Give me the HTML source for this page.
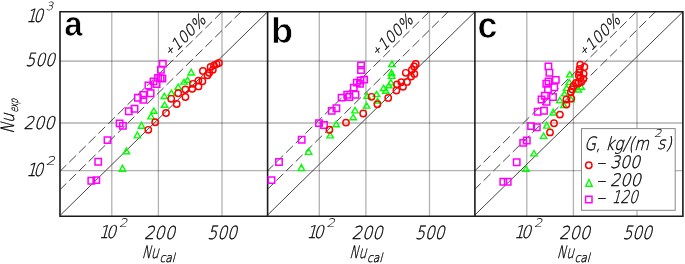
<!DOCTYPE html><html><head><meta charset="utf-8"><style>html,body{margin:0;padding:0;background:#fff;}svg{display:block}</style></head><body>
<svg width="685" height="264" viewBox="0 0 685 264">
<rect width="685" height="264" fill="#fff"/>
<path d="M111.8 11.8V216.2M158.4 11.8V216.2M222.0 11.8V216.2M319.3 11.8V216.2M365.9 11.8V216.2M429.5 11.8V216.2M526.8 11.8V216.2M573.4 11.8V216.2M637.0 11.8V216.2" stroke="#000" stroke-opacity="0.3" stroke-width="1.3" fill="none"/>
<path d="M60.0 123.0H267.6M60.0 170.7H267.6M267.6 123.0H474.9M267.6 170.7H474.9M474.9 123.0H682.9M474.9 170.7H682.9" stroke="#000" stroke-opacity="0.3" stroke-width="1.3" fill="none"/>
<path d="M60.0 61.1H267.6M267.6 61.1H474.9M474.9 61.1H682.9" stroke="#000" stroke-opacity="0.36" stroke-width="1.3" fill="none"/>
<path d="M60.5 215.0L267.6 11.8" stroke="#444" stroke-width="1.0" fill="none"/>
<path d="M60.5 170.8L222.0 11.8M60.5 189.2L241.0 11.8" stroke="#484848" stroke-width="1.0" fill="none" stroke-dasharray="9.6 4.04" stroke-dashoffset="1.4"/>
<path d="M267.6 215.0L474.9 11.8" stroke="#444" stroke-width="1.0" fill="none"/>
<path d="M267.6 170.8L429.1 11.8M267.6 189.2L448.1 11.8" stroke="#484848" stroke-width="1.0" fill="none" stroke-dasharray="9.6 4.04" stroke-dashoffset="1.4"/>
<path d="M474.9 215.0L682.9 11.8" stroke="#444" stroke-width="1.0" fill="none"/>
<path d="M474.9 170.8L636.4 11.8M474.9 189.2L655.4 11.8" stroke="#484848" stroke-width="1.0" fill="none" stroke-dasharray="9.6 4.04" stroke-dashoffset="1.4"/>
<path d="M60.0 11.8H682.9V216.2H60.0Z M267.6 11.8V216.2 M474.9 11.8V216.2" stroke="#1a1a1a" stroke-width="1.6" fill="none"/>
<path d="M88.1 177.6h6.4v6.4h-6.4zM93.1 176.9h6.4v6.4h-6.4zM95.0 158.5h6.4v6.4h-6.4zM104.3 136.9h6.4v6.4h-6.4zM116.4 120.2h6.4v6.4h-6.4zM119.7 122.7h6.4v6.4h-6.4zM125.6 108.1h6.4v6.4h-6.4zM131.3 105.6h6.4v6.4h-6.4zM134.7 94.6h6.4v6.4h-6.4zM140.1 91.8h6.4v6.4h-6.4zM140.1 96.6h6.4v6.4h-6.4zM145.2 82.3h6.4v6.4h-6.4zM147.4 90.0h6.4v6.4h-6.4zM150.3 78.2h6.4v6.4h-6.4zM153.4 80.9h6.4v6.4h-6.4zM154.8 74.7h6.4v6.4h-6.4zM157.4 75.1h6.4v6.4h-6.4zM159.2 75.3h6.4v6.4h-6.4zM157.7 66.6h6.4v6.4h-6.4zM159.6 60.6h6.4v6.4h-6.4z" stroke="#ff00ff" stroke-width="1.5" fill="none"/>
<path d="M122.5 165.3L125.7 171.2H119.3zM126.4 148.0L129.6 153.8H123.2zM137.4 132.0L140.6 137.9H134.2zM141.5 122.3L144.7 128.2H138.3zM151.0 113.4L154.2 118.9H147.8zM153.8 108.1L157.0 113.3H150.6zM164.6 102.0L167.8 107.3H161.4zM164.3 93.3L167.5 98.5H161.1zM171.4 90.2L174.6 95.4H168.2zM178.2 84.2L181.4 89.4H175.0zM184.1 79.3L187.3 84.1H180.9zM187.7 77.4L190.9 82.3H184.5zM191.2 69.3L194.4 75.0H188.0z" stroke="#00ff00" stroke-width="1.4" fill="none" stroke-linejoin="miter"/>
<circle cx="148.3" cy="129.8" r="3.2" stroke="#ff0000" stroke-width="1.45" fill="none"/>
<circle cx="155.2" cy="122.2" r="3.2" stroke="#ff0000" stroke-width="1.45" fill="none"/>
<circle cx="166" cy="113" r="3.2" stroke="#ff0000" stroke-width="1.45" fill="none"/>
<circle cx="171.2" cy="98.8" r="3.2" stroke="#ff0000" stroke-width="1.45" fill="none"/>
<circle cx="176.7" cy="104" r="3.2" stroke="#ff0000" stroke-width="1.45" fill="none"/>
<circle cx="178.2" cy="93.2" r="3.2" stroke="#ff0000" stroke-width="1.45" fill="none"/>
<circle cx="185.4" cy="97" r="3.2" stroke="#ff0000" stroke-width="1.45" fill="none"/>
<circle cx="185.4" cy="89.5" r="3.2" stroke="#ff0000" stroke-width="1.45" fill="none"/>
<circle cx="192.2" cy="88.7" r="3.2" stroke="#ff0000" stroke-width="1.45" fill="none"/>
<circle cx="193" cy="83.8" r="3.2" stroke="#ff0000" stroke-width="1.45" fill="none"/>
<circle cx="198.5" cy="86.4" r="3.2" stroke="#ff0000" stroke-width="1.45" fill="none"/>
<circle cx="198.4" cy="80.6" r="3.2" stroke="#ff0000" stroke-width="1.45" fill="none"/>
<circle cx="202.4" cy="81.2" r="3.2" stroke="#ff0000" stroke-width="1.45" fill="none"/>
<circle cx="202.9" cy="70.9" r="3.2" stroke="#ff0000" stroke-width="1.45" fill="none"/>
<circle cx="207.5" cy="75.2" r="3.2" stroke="#ff0000" stroke-width="1.45" fill="none"/>
<circle cx="209.2" cy="72.7" r="3.2" stroke="#ff0000" stroke-width="1.45" fill="none"/>
<circle cx="210.6" cy="67" r="3.2" stroke="#ff0000" stroke-width="1.45" fill="none"/>
<circle cx="212.8" cy="69.8" r="3.2" stroke="#ff0000" stroke-width="1.45" fill="none"/>
<circle cx="214" cy="65.3" r="3.2" stroke="#ff0000" stroke-width="1.45" fill="none"/>
<circle cx="216.6" cy="64.1" r="3.2" stroke="#ff0000" stroke-width="1.45" fill="none"/>
<circle cx="218.9" cy="63" r="3.2" stroke="#ff0000" stroke-width="1.45" fill="none"/>
<path d="M268.3 176.9h6.4v6.4h-6.4zM275.8 158.8h6.4v6.4h-6.4zM298.5 136.6h6.4v6.4h-6.4zM315.8 119.9h6.4v6.4h-6.4zM320.8 121.8h6.4v6.4h-6.4zM328.5 107.7h6.4v6.4h-6.4zM333.2 105.0h6.4v6.4h-6.4zM338.4 94.4h6.4v6.4h-6.4zM344.0 91.6h6.4v6.4h-6.4zM346.2 93.8h6.4v6.4h-6.4zM352.3 91.6h6.4v6.4h-6.4zM350.6 84.4h6.4v6.4h-6.4zM353.6 79.4h6.4v6.4h-6.4zM356.8 80.7h6.4v6.4h-6.4zM357.3 77.3h6.4v6.4h-6.4zM361.0 76.4h6.4v6.4h-6.4zM357.8 66.8h6.4v6.4h-6.4zM357.8 62.2h6.4v6.4h-6.4z" stroke="#ff00ff" stroke-width="1.5" fill="none"/>
<path d="M301.4 164.6L304.6 170.6H298.2zM308.6 148.6L311.8 154.4H305.4zM330.2 132.2L333.4 137.9H327.0zM336.2 121.3L339.4 126.8H333.0zM353.2 114.5L356.4 119.7H350.0zM355.0 107.4L358.2 112.9H351.8zM366.6 102.9L369.8 108.1H363.4zM367.2 93.2L370.4 98.4H364.0zM376.5 91.5L379.7 96.4H373.3zM377.6 98.3L380.8 103.0H374.4zM383.6 85.3L386.8 90.5H380.4zM385.9 88.1L389.1 93.3H382.7zM388.8 83.0L392.0 87.7H385.6zM390.8 79.7L394.0 84.9H387.6zM391.7 73.4L394.9 78.4H388.5zM391.5 69.9L394.7 75.6H388.3zM392.0 61.0L395.2 66.6H388.8z" stroke="#00ff00" stroke-width="1.4" fill="none" stroke-linejoin="miter"/>
<circle cx="329.4" cy="129.7" r="3.2" stroke="#ff0000" stroke-width="1.45" fill="none"/>
<circle cx="346" cy="122.6" r="3.2" stroke="#ff0000" stroke-width="1.45" fill="none"/>
<circle cx="363.2" cy="113.5" r="3.2" stroke="#ff0000" stroke-width="1.45" fill="none"/>
<circle cx="371.5" cy="96.8" r="3.2" stroke="#ff0000" stroke-width="1.45" fill="none"/>
<circle cx="377.4" cy="104.2" r="3.2" stroke="#ff0000" stroke-width="1.45" fill="none"/>
<circle cx="388.2" cy="97.9" r="3.2" stroke="#ff0000" stroke-width="1.45" fill="none"/>
<circle cx="396.4" cy="90.5" r="3.2" stroke="#ff0000" stroke-width="1.45" fill="none"/>
<circle cx="397" cy="84.5" r="3.2" stroke="#ff0000" stroke-width="1.45" fill="none"/>
<circle cx="401.3" cy="82.2" r="3.2" stroke="#ff0000" stroke-width="1.45" fill="none"/>
<circle cx="403" cy="86.8" r="3.2" stroke="#ff0000" stroke-width="1.45" fill="none"/>
<circle cx="407" cy="81.9" r="3.2" stroke="#ff0000" stroke-width="1.45" fill="none"/>
<circle cx="405.8" cy="72.8" r="3.2" stroke="#ff0000" stroke-width="1.45" fill="none"/>
<circle cx="411.1" cy="76.6" r="3.2" stroke="#ff0000" stroke-width="1.45" fill="none"/>
<circle cx="411.9" cy="69.8" r="3.2" stroke="#ff0000" stroke-width="1.45" fill="none"/>
<circle cx="414.4" cy="73.9" r="3.2" stroke="#ff0000" stroke-width="1.45" fill="none"/>
<circle cx="414.1" cy="66.4" r="3.2" stroke="#ff0000" stroke-width="1.45" fill="none"/>
<circle cx="415.7" cy="63.9" r="3.2" stroke="#ff0000" stroke-width="1.45" fill="none"/>
<path d="M500.1 178.5h6.4v6.4h-6.4zM504.5 178.5h6.4v6.4h-6.4zM513.5 159.1h6.4v6.4h-6.4zM520.0 139.7h6.4v6.4h-6.4zM523.6 137.3h6.4v6.4h-6.4zM527.9 122.9h6.4v6.4h-6.4zM533.6 124.0h6.4v6.4h-6.4zM534.5 108.6h6.4v6.4h-6.4zM540.8 107.6h6.4v6.4h-6.4zM538.3 96.3h6.4v6.4h-6.4zM543.4 98.6h6.4v6.4h-6.4zM541.6 92.6h6.4v6.4h-6.4zM549.8 93.8h6.4v6.4h-6.4zM544.8 86.2h6.4v6.4h-6.4zM551.1 84.1h6.4v6.4h-6.4zM543.1 80.6h6.4v6.4h-6.4zM545.3 78.2h6.4v6.4h-6.4zM552.6 76.7h6.4v6.4h-6.4zM546.2 69.6h6.4v6.4h-6.4zM545.2 63.2h6.4v6.4h-6.4z" stroke="#ff00ff" stroke-width="1.5" fill="none"/>
<path d="M526.0 166.2L529.2 171.2H522.8zM534.0 150.5L537.2 155.9H530.8zM543.6 133.0L546.8 138.4H540.4zM546.8 122.3L550.0 128.1H543.6zM553.2 109.2L556.4 115.0H550.0zM559.8 97.4L563.0 102.6H556.6zM563.9 102.3L567.1 107.6H560.7zM564.5 91.3L567.7 95.9H561.3zM566.6 85.4L569.8 90.4H563.4zM569.3 79.6L572.5 84.4H566.1zM569.8 71.7L573.0 76.9H566.6zM570.9 96.6L574.1 101.8H567.7zM578.3 87.0L581.5 92.0H575.1zM581.2 84.4L584.4 89.2H578.0z" stroke="#00ff00" stroke-width="1.4" fill="none" stroke-linejoin="miter"/>
<circle cx="550" cy="132.4" r="3.2" stroke="#ff0000" stroke-width="1.45" fill="none"/>
<circle cx="554" cy="123.2" r="3.2" stroke="#ff0000" stroke-width="1.45" fill="none"/>
<circle cx="559.9" cy="114.6" r="3.2" stroke="#ff0000" stroke-width="1.45" fill="none"/>
<circle cx="566.4" cy="104.6" r="3.2" stroke="#ff0000" stroke-width="1.45" fill="none"/>
<circle cx="566.4" cy="99.5" r="3.2" stroke="#ff0000" stroke-width="1.45" fill="none"/>
<circle cx="571.2" cy="98.5" r="3.2" stroke="#ff0000" stroke-width="1.45" fill="none"/>
<circle cx="570.8" cy="92.1" r="3.2" stroke="#ff0000" stroke-width="1.45" fill="none"/>
<circle cx="571.9" cy="89.2" r="3.2" stroke="#ff0000" stroke-width="1.45" fill="none"/>
<circle cx="573.5" cy="86" r="3.2" stroke="#ff0000" stroke-width="1.45" fill="none"/>
<circle cx="575.9" cy="82.9" r="3.2" stroke="#ff0000" stroke-width="1.45" fill="none"/>
<circle cx="578" cy="83.5" r="3.2" stroke="#ff0000" stroke-width="1.45" fill="none"/>
<circle cx="581.2" cy="82" r="3.2" stroke="#ff0000" stroke-width="1.45" fill="none"/>
<circle cx="578.8" cy="75.4" r="3.2" stroke="#ff0000" stroke-width="1.45" fill="none"/>
<circle cx="580.5" cy="77.5" r="3.2" stroke="#ff0000" stroke-width="1.45" fill="none"/>
<circle cx="583.3" cy="78.9" r="3.2" stroke="#ff0000" stroke-width="1.45" fill="none"/>
<circle cx="579.3" cy="72.5" r="3.2" stroke="#ff0000" stroke-width="1.45" fill="none"/>
<circle cx="583.6" cy="73.8" r="3.2" stroke="#ff0000" stroke-width="1.45" fill="none"/>
<circle cx="579.6" cy="68.9" r="3.2" stroke="#ff0000" stroke-width="1.45" fill="none"/>
<circle cx="584.4" cy="66.9" r="3.2" stroke="#ff0000" stroke-width="1.45" fill="none"/>
<circle cx="580.2" cy="64.7" r="3.2" stroke="#ff0000" stroke-width="1.45" fill="none"/>
<text x="0" y="0" font-size="35" font-family="Liberation Sans, Arial, sans-serif" font-weight="bold" stroke="#fff" stroke-width="0.7" transform="translate(64.15,36.42) scale(0.941,1.016)">a</text>
<text x="0" y="0" font-size="35" font-family="Liberation Sans, Arial, sans-serif" font-weight="bold" stroke="#fff" stroke-width="0.7" transform="translate(271.10,43.20) scale(1.036,1.020)">b</text>
<text x="0" y="0" font-size="35" font-family="Liberation Sans, Arial, sans-serif" font-weight="bold" stroke="#fff" stroke-width="0.7" transform="translate(477.57,37.62) scale(1.025,1.070)">c</text>
<text x="0" y="0" font-size="19" font-family="DejaVu Sans, Liberation Sans, sans-serif" font-weight="200" stroke="#000" stroke-width="0.35" transform="translate(26.35,21.77) skewX(-15) scale(0.807,0.963)">1<tspan dx="-3.5">0</tspan></text>
<text x="0" y="0" font-size="12" font-family="DejaVu Sans, Liberation Sans, sans-serif" font-weight="200" stroke="#000" stroke-width="0.12" transform="translate(45.75,9.82) skewX(-15) scale(0.980,0.941)">3</text>
<text x="0" y="0" font-size="19" font-family="DejaVu Sans, Liberation Sans, sans-serif" font-weight="200" stroke="#000" stroke-width="0.35" transform="translate(25.27,66.10) skewX(-15) scale(0.817,0.949)">500</text>
<text x="0" y="0" font-size="19" font-family="DejaVu Sans, Liberation Sans, sans-serif" font-weight="200" stroke="#000" stroke-width="0.35" transform="translate(23.60,129.18) skewX(-15) scale(0.857,0.926)">200</text>
<text x="0" y="0" font-size="19" font-family="DejaVu Sans, Liberation Sans, sans-serif" font-weight="200" stroke="#000" stroke-width="0.35" transform="translate(26.23,175.62) skewX(-15) scale(0.820,0.939)">1<tspan dx="-3.5">0</tspan></text>
<text x="0" y="0" font-size="12" font-family="DejaVu Sans, Liberation Sans, sans-serif" font-weight="200" stroke="#000" stroke-width="0.12" transform="translate(45.80,164.70) skewX(-15) scale(1.238,1.000)">2</text>
<text x="0" y="0" font-size="19" font-family="DejaVu Sans, Liberation Sans, sans-serif" font-weight="200" stroke="#000" stroke-width="0.35" transform="translate(98.85,238.38) skewX(-15) scale(0.828,0.929)">1<tspan dx="-3.5">0</tspan></text>
<text x="0" y="0" font-size="12" font-family="DejaVu Sans, Liberation Sans, sans-serif" font-weight="200" stroke="#000" stroke-width="0.12" transform="translate(118.88,227.02) skewX(-15) scale(1.091,0.984)">2</text>
<text x="0" y="0" font-size="19" font-family="DejaVu Sans, Liberation Sans, sans-serif" font-weight="200" stroke="#000" stroke-width="0.35" transform="translate(144.00,238.52) skewX(-15) scale(0.857,0.939)">200</text>
<text x="0" y="0" font-size="19" font-family="DejaVu Sans, Liberation Sans, sans-serif" font-weight="200" stroke="#000" stroke-width="0.35" transform="translate(207.28,238.68) skewX(-15) scale(0.817,0.959)">500</text>
<text x="0" y="0" font-size="19" font-family="DejaVu Sans, Liberation Sans, sans-serif" font-weight="200" stroke="#000" stroke-width="0.35" transform="translate(141.72,257.98) skewX(-15) scale(0.643,0.911)">Nu</text>
<text x="0" y="0" font-size="13" font-family="DejaVu Sans, Liberation Sans, sans-serif" font-weight="200" stroke="#000" stroke-width="0.35" transform="translate(159.53,262.48) skewX(-15) scale(0.806,0.956)">cal</text>
<text x="0" y="0" font-size="19" font-family="DejaVu Sans, Liberation Sans, sans-serif" font-weight="200" stroke="#000" stroke-width="0.35" transform="translate(306.45,238.38) skewX(-15) scale(0.828,0.929)">1<tspan dx="-3.5">0</tspan></text>
<text x="0" y="0" font-size="12" font-family="DejaVu Sans, Liberation Sans, sans-serif" font-weight="200" stroke="#000" stroke-width="0.12" transform="translate(326.48,227.02) skewX(-15) scale(1.091,0.984)">2</text>
<text x="0" y="0" font-size="19" font-family="DejaVu Sans, Liberation Sans, sans-serif" font-weight="200" stroke="#000" stroke-width="0.35" transform="translate(351.60,238.52) skewX(-15) scale(0.857,0.939)">200</text>
<text x="0" y="0" font-size="19" font-family="DejaVu Sans, Liberation Sans, sans-serif" font-weight="200" stroke="#000" stroke-width="0.35" transform="translate(414.88,238.68) skewX(-15) scale(0.817,0.959)">500</text>
<text x="0" y="0" font-size="19" font-family="DejaVu Sans, Liberation Sans, sans-serif" font-weight="200" stroke="#000" stroke-width="0.35" transform="translate(349.32,257.98) skewX(-15) scale(0.643,0.911)">Nu</text>
<text x="0" y="0" font-size="13" font-family="DejaVu Sans, Liberation Sans, sans-serif" font-weight="200" stroke="#000" stroke-width="0.35" transform="translate(367.12,262.48) skewX(-15) scale(0.806,0.956)">cal</text>
<text x="0" y="0" font-size="19" font-family="DejaVu Sans, Liberation Sans, sans-serif" font-weight="200" stroke="#000" stroke-width="0.35" transform="translate(513.95,238.38) skewX(-15) scale(0.828,0.929)">1<tspan dx="-3.5">0</tspan></text>
<text x="0" y="0" font-size="12" font-family="DejaVu Sans, Liberation Sans, sans-serif" font-weight="200" stroke="#000" stroke-width="0.12" transform="translate(533.98,227.02) skewX(-15) scale(1.091,0.984)">2</text>
<text x="0" y="0" font-size="19" font-family="DejaVu Sans, Liberation Sans, sans-serif" font-weight="200" stroke="#000" stroke-width="0.35" transform="translate(559.10,238.52) skewX(-15) scale(0.857,0.939)">200</text>
<text x="0" y="0" font-size="19" font-family="DejaVu Sans, Liberation Sans, sans-serif" font-weight="200" stroke="#000" stroke-width="0.35" transform="translate(622.38,238.68) skewX(-15) scale(0.817,0.959)">500</text>
<text x="0" y="0" font-size="19" font-family="DejaVu Sans, Liberation Sans, sans-serif" font-weight="200" stroke="#000" stroke-width="0.35" transform="translate(556.83,257.98) skewX(-15) scale(0.643,0.911)">Nu</text>
<text x="0" y="0" font-size="13" font-family="DejaVu Sans, Liberation Sans, sans-serif" font-weight="200" stroke="#000" stroke-width="0.35" transform="translate(574.62,262.48) skewX(-15) scale(0.806,0.956)">cal</text>
<g transform="translate(14,133) rotate(-90)"><text x="0" y="0" font-size="19" font-family="DejaVu Sans, Liberation Sans, sans-serif" font-weight="200" stroke="#000" stroke-width="0.35" transform="translate(-0.85,0.45) skewX(-15) scale(0.760,0.969)">Nu</text><text x="0" y="0" font-size="13" font-family="DejaVu Sans, Liberation Sans, sans-serif" font-weight="200" stroke="#000" stroke-width="0.35" transform="translate(20.50,4.10) skewX(-15) scale(0.562,0.878)">exp</text></g>
<g transform="translate(172.1,56.4) rotate(-45)"><text x="0" y="0" font-size="17" font-family="DejaVu Sans, Liberation Sans, sans-serif" font-weight="200" stroke="#000" stroke-width="0.35" transform="translate(-2.25,-0.28) skewX(-15) scale(0.879,0.902)"><tspan font-size="11" dy="-2.5">+</tspan><tspan dy="2.5" dx="1">100%</tspan></text></g>
<g transform="translate(379.2,56.4) rotate(-45)"><text x="0" y="0" font-size="17" font-family="DejaVu Sans, Liberation Sans, sans-serif" font-weight="200" stroke="#000" stroke-width="0.35" transform="translate(-2.25,-0.28) skewX(-15) scale(0.879,0.902)"><tspan font-size="11" dy="-2.5">+</tspan><tspan dy="2.5" dx="1">100%</tspan></text></g>
<g transform="translate(586.5,56.4) rotate(-45)"><text x="0" y="0" font-size="17" font-family="DejaVu Sans, Liberation Sans, sans-serif" font-weight="200" stroke="#000" stroke-width="0.35" transform="translate(-2.25,-0.28) skewX(-15) scale(0.879,0.902)"><tspan font-size="11" dy="-2.5">+</tspan><tspan dy="2.5" dx="1">100%</tspan></text></g>
<rect x="581.5" y="128.6" width="93.7" height="81.7" fill="#fff" stroke="#888" stroke-width="1"/>
<text x="0" y="0" font-size="19" font-family="DejaVu Sans, Liberation Sans, sans-serif" font-weight="200" stroke="#000" stroke-width="0.35" transform="translate(584.08,149.50) skewX(-15) scale(0.793,0.960)">G, kg/(m</text>
<text x="0" y="0" font-size="12" font-family="DejaVu Sans, Liberation Sans, sans-serif" font-weight="200" stroke="#000" stroke-width="0.12" transform="translate(654.10,137.40) skewX(-15) scale(0.980,0.889)">2</text>
<text x="0" y="0" font-size="19" font-family="DejaVu Sans, Liberation Sans, sans-serif" font-weight="200" stroke="#000" stroke-width="0.35" transform="translate(657.02,148.72) skewX(-15) scale(0.849,0.896)">s)</text>
<text x="0" y="0" font-size="19" font-family="DejaVu Sans, Liberation Sans, sans-serif" font-weight="200" stroke="#000" stroke-width="0.35" transform="translate(610.02,168.32) skewX(-15) scale(0.831,0.899)">300</text>
<text x="0" y="0" font-size="19" font-family="DejaVu Sans, Liberation Sans, sans-serif" font-weight="200" stroke="#000" stroke-width="0.35" transform="translate(609.98,185.75) skewX(-15) scale(0.852,0.905)">200</text>
<text x="0" y="0" font-size="19" font-family="DejaVu Sans, Liberation Sans, sans-serif" font-weight="200" stroke="#000" stroke-width="0.35" transform="translate(611.67,203.18) skewX(-15) scale(0.717,0.926)">120</text>
<circle cx="588.8" cy="165.2" r="3.2" stroke="#ff0000" stroke-width="1.45" fill="none"/>
<path d="M589 179.5L592.2 186.2H585.8z" stroke="#00ff00" stroke-width="1.4" fill="none"/>
<path d="M585.6 196.25h6.4v6.4h-6.4z" stroke="#ff00ff" stroke-width="1.5" fill="none"/>
<text x="0" y="0" font-size="19" font-family="DejaVu Sans, Liberation Sans, sans-serif" font-weight="200" stroke="#000" stroke-width="0.35" transform="translate(597.40,169.20) scale(0.936,1.000)">–</text>
<text x="0" y="0" font-size="19" font-family="DejaVu Sans, Liberation Sans, sans-serif" font-weight="200" stroke="#000" stroke-width="0.35" transform="translate(597.40,186.90) scale(0.936,1.000)">–</text>
<text x="0" y="0" font-size="19" font-family="DejaVu Sans, Liberation Sans, sans-serif" font-weight="200" stroke="#000" stroke-width="0.35" transform="translate(597.40,203.50) scale(0.936,1.000)">–</text>
</svg></body></html>
